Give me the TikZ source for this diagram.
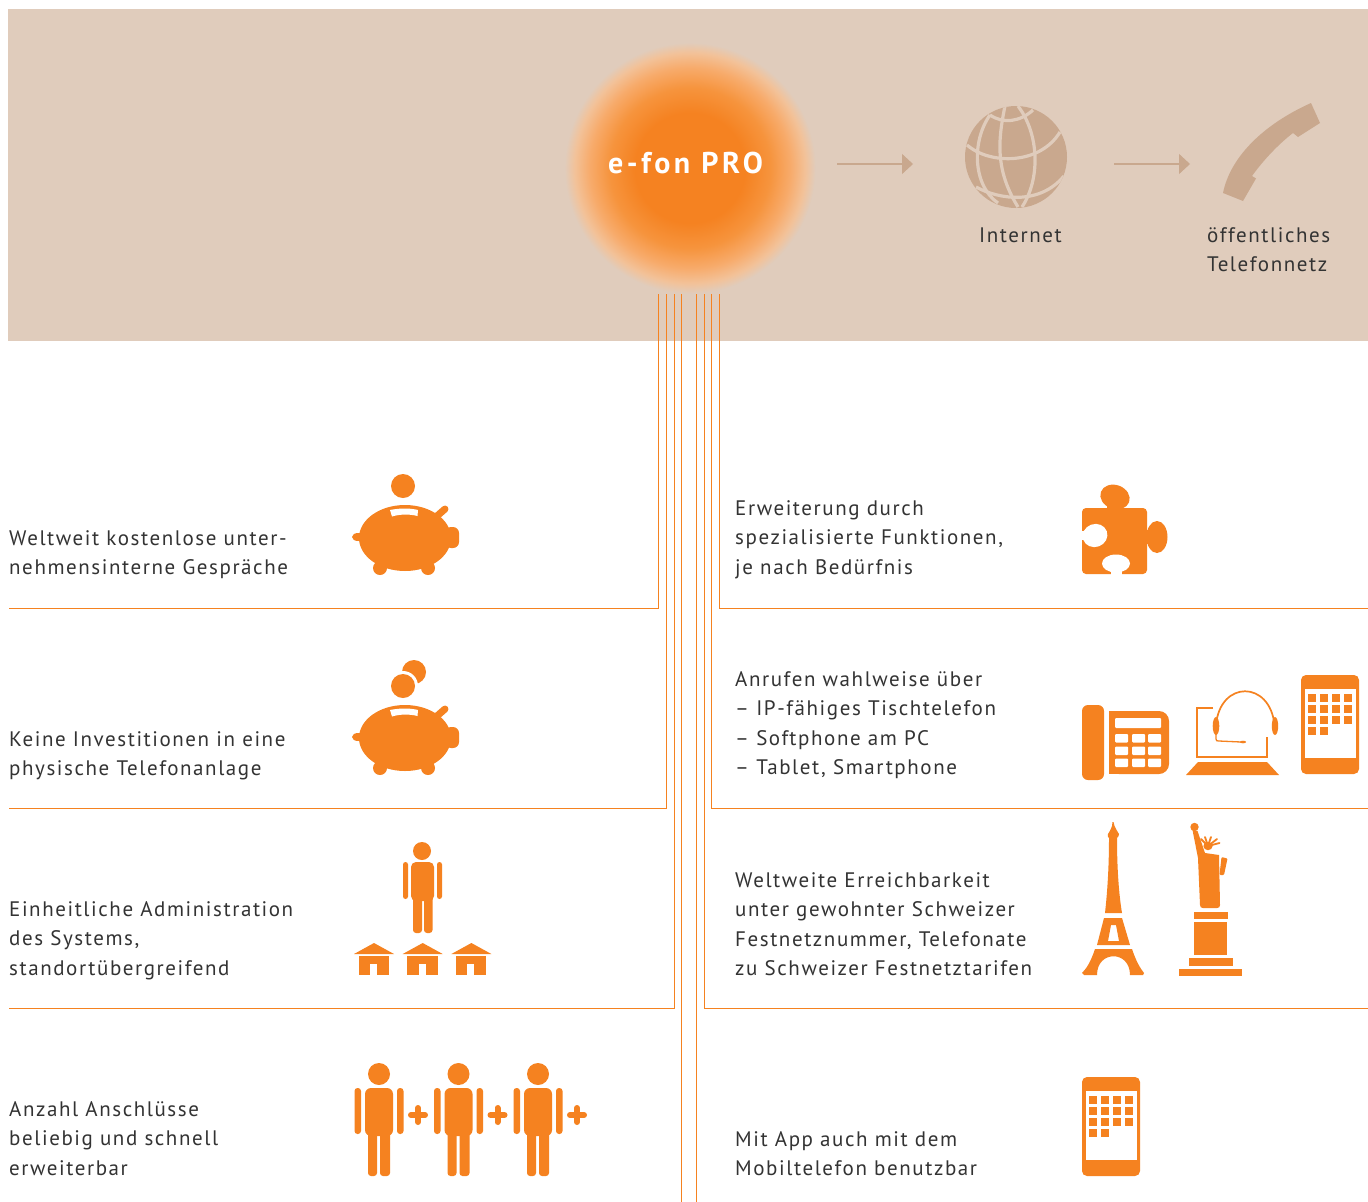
\documentclass[tikz,border=0pt]{standalone}
\usepackage{fontspec}
\setmainfont[LetterSpace=7.5]{PT Sans}
\newfontfamily\titlefont[LetterSpace=11.8]{PT Sans}
\usetikzlibrary{arrows.meta}
\definecolor{bandbg}{HTML}{E0CCBC}
\definecolor{tan}{HTML}{C9A88E}
\definecolor{efon}{HTML}{F58220}
\definecolor{ink}{HTML}{333333}
\pgfdeclareradialshading{efonglow}{\pgfpoint{0bp}{0bp}}{rgb(0bp)=(.96,.51,.13);rgb(11bp)=(.96,.51,.13);rgb(16bp)=(.965,.58,.24);rgb(20bp)=(.97,.67,.42);rgb(23bp)=(.95,.76,.60);rgb(25bp)=(.878,.8,.737);rgb(50bp)=(.878,.8,.737)}
\newcommand{\firststrut}{\rule{0pt}{20pt}}
\newcommand{\drawpig}{%
  \fill[efon] (405,538) ellipse (46pt and 33pt);
  \fill[efon] (358,537) ellipse (6pt and 4pt);
  \fill[efon,rounded corners=6pt] (445,527) rectangle (459,548);
  \fill[efon] (380,568) circle (7pt);
  \fill[efon] (428,568) circle (7pt);
  \draw[efon,line width=7pt,line cap=round] (437,516) -- (445,509);
  \fill[white] (390,510) .. controls (400,508) and (410,508) .. (418,510) -- (417.5,516) .. controls (410,514) and (400,514) .. (392,516.5) -- cycle;
}
\newcommand{\bigperson}{%
  \fill[efon] (379,1074) circle (11pt);
  \fill[efon,rounded corners=6pt] (365,1088) rectangle (393,1136);
  \fill[efon,rounded corners=3pt] (368,1125) rectangle (377,1176);
  \fill[efon,rounded corners=3pt] (380,1125) rectangle (390,1176);
  \fill[efon,rounded corners=3pt] (354.5,1088) rectangle (361,1134);
  \fill[efon,rounded corners=3pt] (397,1088) rectangle (403.5,1134);
  \draw[efon,line width=6pt,line cap=round] (411,1115) -- (425,1115);
  \draw[efon,line width=6pt,line cap=round] (418,1108) -- (418,1122);
}
\newcommand{\house}{%
  \fill[efon] (354,954) -- (374,943) -- (394,954) -- cycle;
  \fill[efon] (358.5,956) rectangle (389,975);
  \fill[white] (370,964) rectangle (377,976);
}
\newcommand{\tablet}{%
  \fill[efon,rounded corners=5pt] (1301,675) rectangle (1359,774);
  \fill[white] (1305,689) rectangle (1356,758);
  \foreach \cx in {1308,1320,1332,1344}{\foreach \ry in {694,705,716}{
    \fill[efon] (\cx,\ry) rectangle ++(8,8);}}
  \foreach \cx in {1308,1320}{\fill[efon] (\cx,727) rectangle ++(8,8);}
}
\tikzset{
  lbl/.style={anchor=north west,inner sep=0pt,align=left,text=ink,font=\fontsize{21}{29.6}\selectfont,execute at begin node=\firststrut},
  conn/.style={draw=efon,line width=1pt},
  tanarrow/.style={draw=tan,line width=1.2pt,-{Triangle[length=11pt,width=20pt]}},
  gl/.style={draw=bandbg,line width=3.2pt}
}
\begin{document}
\begin{tikzpicture}[x=1pt,y=-1pt]
\useasboundingbox (0,0) rectangle (1368,1202);
\fill[white] (0,0) rectangle (1368,1202);
\fill[bandbg] (8,9) rectangle (1368,341);
\shade[shading=efonglow] (690,168) circle (125.5pt);
\node[inner sep=0pt,anchor=base west,text=white,font=\fontsize{30}{32}\selectfont\titlefont\bfseries] (title) at (608,173.5) {e-fon PRO};

% connectors
\coordinate (a1) at (658.7,294); \coordinate (a1e) at (9,608);
\coordinate (a2) at (666.3,294); \coordinate (a2e) at (9,808);
\coordinate (a3) at (674,294); \coordinate (a3e) at (9,1008);
\coordinate (a4) at (681.5,294); \coordinate (a4e) at (681.5,1202);
\coordinate (b1) at (719.3,294); \coordinate (b1e) at (1368,608);
\coordinate (b2) at (711.7,294); \coordinate (b2e) at (1368,808);
\coordinate (b3) at (704.3,294); \coordinate (b3e) at (1368,1008);
\coordinate (b4) at (696.7,294); \coordinate (b4e) at (696.7,1202);
\draw[conn] (a1) |- (a1e);
\draw[conn] (a2) |- (a2e);
\draw[conn] (a3) |- (a3e);
\draw[conn] (a4) -- (a4e);
\draw[conn] (b1) |- (b1e);
\draw[conn] (b2) |- (b2e);
\draw[conn] (b3) |- (b3e);
\draw[conn] (b4) -- (b4e);

% arrows
\coordinate (p1) at (837,164); \coordinate (p2) at (913,164);
\coordinate (p3) at (1114,164); \coordinate (p4) at (1190,164);
\draw[tanarrow] (p1) -- (p2);
\draw[tanarrow] (p3) -- (p4);

% globe
\begin{scope}
\fill[tan] (1016,157) circle (51pt);
\clip (1016,157) circle (51pt);
\draw[gl] (1005,106) .. controls (998,140) and (995,170) .. (1018,207);
\draw[gl] (1018,106) .. controls (1040,135) and (1040,180) .. (1022,207);
\draw[gl] (990,115) .. controls (972,140) and (972,185) .. (998,203);
\draw[gl] (990,115) .. controls (1003,124) and (1020,122) .. (1033,110);
\draw[gl] (967,145) .. controls (990,165) and (1040,165) .. (1060,132);
\draw[gl] (976,187) .. controls (1000,200) and (1040,205) .. (1064,176);
\end{scope}

% phone receiver
\fill[tan] (1311,103) -- (1320,123) -- (1298,137) -- (1293,133) .. controls (1280,143) and (1265,158) .. (1252,176) -- (1256,178.5) -- (1243,201) -- (1223,193) .. controls (1230,158) and (1262,125) .. (1311,103) -- cycle;

% pigs
\begin{scope}
\fill[efon] (403,486) circle (12pt);
\drawpig
\end{scope}
\begin{scope}[shift={(0,200)}]
\drawpig
\end{scope}
\fill[efon] (414,672) circle (12pt);
\fill[white] (403,686) circle (15pt);
\fill[efon] (403,686) circle (12pt);

% administrator and houses
\fill[efon] (422,851) circle (9pt);
\fill[efon,rounded corners=5pt] (411,862) rectangle (434,901);
\fill[efon,rounded corners=3pt] (413,890) rectangle (422,933);
\fill[efon,rounded corners=3pt] (424,890) rectangle (432.5,933);
\fill[efon,rounded corners=2.5pt] (403,862) rectangle (408,899);
\fill[efon,rounded corners=2.5pt] (437,862) rectangle (442,899);
\house
\begin{scope}[shift={(48.7,0)}]\house\end{scope}
\begin{scope}[shift={(97.4,0)}]\house\end{scope}

% people
\bigperson
\begin{scope}[shift={(79.5,0)}]\bigperson\end{scope}
\begin{scope}[shift={(159,0)}]\bigperson\end{scope}

% puzzle
\fill[efon,rounded corners=4pt] (1082,508) rectangle (1147,574);
\fill[efon,rotate around={-20:(1115,497)}] (1115,497) ellipse (15pt and 12pt);
\fill[efon] (1107,505) rectangle (1122,512);
\fill[efon] (1157,537) ellipse (10.5pt and 16pt);
\fill[efon] (1145,530) rectangle (1150,544);
\fill[white,rotate around={20:(1095,535.5)}] (1095,535.5) ellipse (12.5pt and 11.5pt);
\fill[white] (1080,531) rectangle (1092,540);
\fill[white] (1116,563.5) ellipse (14pt and 9pt);
\fill[white] (1110.5,568) rectangle (1121.5,576);

% desk telephone
\fill[efon,rounded corners=6pt] (1082,705) rectangle (1104,780);
\fill[efon,rounded corners=10pt] (1109,711) -- (1169,711) -- (1169,774) -- (1109,774) [sharp corners] -- cycle;
\fill[efon] (1109,711) rectangle (1125,774);
\fill[white,rounded corners=1pt] (1115,718) rectangle (1161,728);
\foreach \cx/\cw in {1115/13,1132/13,1148/13}{\foreach \ry in {734,746.5,758.5}{
  \fill[white,rounded corners=1pt] (\cx,\ry) rectangle ++(\cw,8.5);}}

% laptop and headset
\draw[efon,line width=2.7pt] (1213,708) -- (1197,708) -- (1197,757) -- (1267,757) -- (1267,737);
\fill[efon] (1198,762) -- (1267,762) -- (1279,775) -- (1186,775) -- cycle;
\draw[efon,line width=1.7pt] (1216,725) .. controls (1220,680) and (1270,680) .. (1274.5,725);
\fill[efon] (1216,726) ellipse (3.3pt and 9pt);
\fill[efon] (1275,726) ellipse (3.2pt and 9pt);
\draw[efon,line width=1.3pt] (1216,733) -- (1216,739) .. controls (1216,741) and (1217,741) .. (1219,741) -- (1241,742);
\fill[efon] (1243,742) ellipse (3pt and 1.3pt);

% tablet and mobile
\tablet
\begin{scope}[shift={(-219,402)}]\tablet\end{scope}

% Eiffel tower
\fill[efon] (1112.5,822) -- (1113.5,822) -- (1114.5,826) .. controls (1116,829) and (1117,831) .. (1119,834) .. controls (1119,836) and (1118,837) .. (1117,838) .. controls (1117,870) and (1119,895) .. (1122,913) -- (1105,913) .. controls (1107,895) and (1109,870) .. (1109,838) .. controls (1108,837) and (1107,836) .. (1108,834) .. controls (1110,831) and (1111,829) .. (1112,826) -- cycle;
\fill[efon,even odd rule] (1104,918) -- (1122,918) -- (1130,945) -- (1097,945) -- cycle (1111,925) -- (1116,925) -- (1119,941) -- (1108,941) -- cycle;
\fill[efon] (1095,949) -- (1132,949) .. controls (1136,961) and (1140,968) .. (1144,973) -- (1143,975) -- (1130,975) .. controls (1130,950) and (1097,950) .. (1097,975) -- (1084,975) -- (1082,973) .. controls (1087,968) and (1091,961) .. (1095,949) -- cycle;

% Statue of Liberty
\fill[efon] (1194.5,827) circle (4.2pt);
\fill[efon] (1192.5,830) -- (1197.5,831) -- (1205,853) -- (1219,855) -- (1220,905) .. controls (1220,907) and (1219,908) .. (1217,908) -- (1203,908) .. controls (1201,908) and (1200,907) .. (1200,905) -- (1198,858) -- cycle;
\fill[efon,rounded corners=1pt] (1221.5,857) -- (1227.5,858.5) -- (1224,875) -- (1219.5,875) -- cycle;
\fill[efon] (1208,846) ellipse (4.6pt and 4.2pt);
\foreach \fx/\fy in {1201/839,1205/837,1211/837,1217/839,1219.5/843}{
  \draw[efon,line width=1.8pt,line cap=round] (1208,846) -- (\fx,\fy);}
\fill[efon] (1194,912) rectangle (1228,919);
\fill[efon] (1194,922) rectangle (1227,955);
\fill[efon] (1189,958) rectangle (1233,966);
\fill[efon] (1179,969) rectangle (1242,976);

% labels
\node[lbl] (t1) at (9,530) {Weltweit kostenlose unter-\\nehmensinterne Gespräche};
\node[lbl] (t2) at (9,731) {Keine Investitionen in eine\\physische Telefonanlage};
\node[lbl] (t3) at (9,901) {Einheitliche Administration\\des Systems,\\standortübergreifend};
\node[lbl] (t4) at (9,1101) {Anzahl Anschlüsse\\beliebig und schnell\\erweiterbar};
\node[lbl] (t5) at (735,500) {Erweiterung durch\\spezialisierte Funktionen,\\je nach Bedürfnis};
\node[lbl] (t6) at (735,671) {Anrufen wahlweise über\\– IP-fähiges Tischtelefon\\– Softphone am PC\\– Tablet, Smartphone};
\node[lbl] (t7) at (735,872) {Weltweite Erreichbarkeit\\unter gewohnter Schweizer\\Festnetznummer, Telefonate\\zu Schweizer Festnetztarifen};
\node[lbl] (t8) at (735,1131) {Mit App auch mit dem\\Mobiltelefon benutzbar};
\node[lbl] (t9) at (979,222) {Internet};
\node[lbl] (t10) at (1207,227) {öffentliches\\Telefonnetz};
\end{tikzpicture}
\end{document}
